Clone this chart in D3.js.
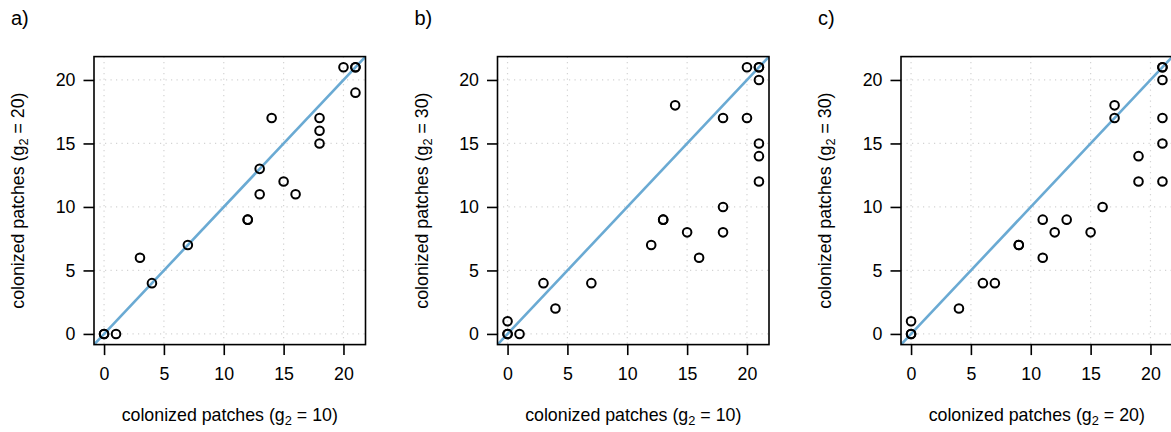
<!DOCTYPE html>
<html>
<head>
<meta charset="utf-8">
<script src="https://cdn.jsdelivr.net/npm/d3@7"></script>
<style>
  html, body { margin: 0; padding: 0; background: #fff; }
  svg { display: block; }
  text { font-family: "Liberation Sans", Arial, Helvetica, sans-serif; fill: #000; }
</style>
</head>
<body>
<svg id="chart" width="1171" height="432"></svg>
<script>
// ---- data ----
const panelLetters = ["a)", "b)", "c)"];
const xLabelG = ["10", "10", "20"];
const yLabelG = ["20", "30", "30"];
const ticks = [0, 5, 10, 15, 20];
const domain = [-0.84, 21.84];

const aX = [0, 0, 1, 3, 4, 7, 12, 12, 13, 13, 14, 15, 16, 18, 18, 18, 20, 21, 21, 21];
const aY = [0, 0, 0, 6, 4, 7, 9, 9, 13, 11, 17, 12, 11, 17, 16, 15, 21, 21, 21, 19];

const bX = [0, 0, 0, 1, 3, 4, 7, 12, 13, 13, 15, 16, 18, 18, 14, 18, 20, 20, 21, 21, 21, 21, 21, 21];
const bY = [0, 0, 1, 0, 4, 2, 4, 7, 9, 9, 8, 6, 10, 8, 18, 17, 17, 21, 21, 21, 20, 15, 14, 12];

const cX = [0, 0, 0, 4, 6, 7, 9, 9, 11, 11, 12, 13, 15, 16, 17, 17, 19, 19, 21, 21, 21, 21, 21, 21];
const cY = [0, 0, 1, 2, 4, 4, 7, 7, 9, 6, 8, 9, 8, 10, 18, 17, 14, 12, 21, 21, 20, 17, 15, 12];

const panels = [
  { x: aX, y: aY },
  { x: bX, y: bY },
  { x: cX, y: cY }
];

// ---- layout ----
const svg = d3.select("#chart");
const plotW = 271.5, plotH = 288;
const plotTop = 56.6;
const firstLeft = 94, step = 403.5;
const fontSize = 17.8;

panels.forEach((p, i) => {
  const left = firstLeft + i * step;
  const g = svg.append("g").attr("transform", `translate(${left},${plotTop})`);
  const xs = d3.scaleLinear().domain(domain).range([0, plotW]);
  const ys = d3.scaleLinear().domain(domain).range([plotH, 0]);

  const clipId = "clip" + i;
  g.append("clipPath").attr("id", clipId)
    .append("rect").attr("width", plotW).attr("height", plotH);

  // grid
  const grid = g.append("g");
  grid.selectAll(".gv").data(ticks).join("line")
    .attr("x1", d => xs(d)).attr("x2", d => xs(d))
    .attr("y1", 0).attr("y2", plotH)
    .attr("stroke", "#d3d3d3").attr("stroke-width", 1.2)
    .attr("stroke-dasharray", "1.2,4.3");
  grid.selectAll(".gh").data(ticks).join("line")
    .attr("y1", d => ys(d)).attr("y2", d => ys(d))
    .attr("x1", 0).attr("x2", plotW)
    .attr("stroke", "#d3d3d3").attr("stroke-width", 1.2)
    .attr("stroke-dasharray", "1.2,4.3");

  // identity line
  g.append("line")
    .attr("clip-path", `url(#${clipId})`)
    .attr("x1", xs(domain[0])).attr("y1", ys(domain[0]))
    .attr("x2", xs(domain[1])).attr("y2", ys(domain[1]))
    .attr("stroke", "#6aaad3").attr("stroke-width", 2.6);

  // points
  g.selectAll("circle").data(p.x.map((v, k) => [v, p.y[k]])).join("circle")
    .attr("cx", d => xs(d[0])).attr("cy", d => ys(d[1]))
    .attr("r", 4.3).attr("fill", "none")
    .attr("stroke", "#000").attr("stroke-width", 2);

  // box
  g.append("rect").attr("width", plotW).attr("height", plotH)
    .attr("fill", "none").attr("stroke", "#000").attr("stroke-width", 1.6);

  // axes
  const xAxis = g.append("g").attr("transform", `translate(0,${plotH})`)
    .call(d3.axisBottom(xs).tickValues(ticks).tickSize(10.5).tickPadding(12));
  const yAxis = g.append("g")
    .call(d3.axisLeft(ys).tickValues(ticks).tickSize(10.5).tickPadding(8));
  [xAxis, yAxis].forEach(ax => {
    ax.select(".domain").remove();
    ax.selectAll("line").attr("stroke", "#000").attr("stroke-width", 1.6);
    ax.selectAll("text").attr("font-size", fontSize)
      .attr("font-family", "'Liberation Sans', Arial, sans-serif").attr("fill", "#000");
  });

  // x title
  const xt = g.append("text")
    .attr("x", plotW / 2).attr("y", 366.5 - plotTop + 55)
    .attr("text-anchor", "middle").attr("font-size", fontSize);
  xt.append("tspan").text("colonized patches (g");
  xt.append("tspan").text("2").attr("font-size", fontSize * 0.72).attr("dy", 4);
  xt.append("tspan").text(" = " + xLabelG[i] + ")").attr("dy", -4);

  // y title
  const yt = g.append("text")
    .attr("transform", `translate(${-70},${plotH / 2}) rotate(-90)`)
    .attr("text-anchor", "middle").attr("font-size", fontSize);
  yt.append("tspan").text("colonized patches (g");
  yt.append("tspan").text("2").attr("font-size", fontSize * 0.72).attr("dy", 4);
  yt.append("tspan").text(" = " + yLabelG[i] + ")").attr("dy", -4);

  // panel letter
  svg.append("text").attr("x", 11 + i * step).attr("y", 25)
    .attr("font-size", 20).text(panelLetters[i]);
});
</script>
</body>
</html>
